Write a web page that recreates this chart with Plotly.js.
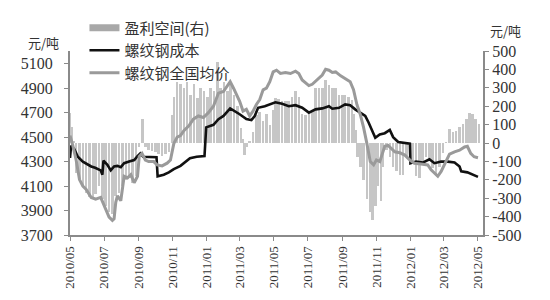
<!DOCTYPE html>
<html><head><meta charset="utf-8">
<script src="https://cdn.plot.ly/plotly-3.0.1.min.js"></script>
<style>html,body{margin:0;padding:0;background:#fff}#chart{width:550px;height:300px}</style>
</head><body><div id="chart"></div>
<script>
// 螺纹钢成本 (left axis, 元/吨)
const costDates = ["2010-05-01","2010-05-03","2010-05-09","2010-05-15","2010-05-24","2010-05-31","2010-06-08","2010-06-15","2010-06-25","2010-06-28","2010-06-30","2010-07-07","2010-07-13","2010-07-19","2010-07-25","2010-07-31","2010-08-06","2010-08-15","2010-08-24","2010-08-30","2010-09-04","2010-09-09","2010-09-22","2010-10-03","2010-10-05","2010-10-16","2010-10-25","2010-11-03","2010-11-15","2010-11-24","2010-12-02","2010-12-14","2010-12-28","2010-12-31","2011-01-13","2011-01-22","2011-01-31","2011-02-12","2011-02-21","2011-03-01","2011-03-13","2011-03-22","2011-03-28","2011-04-03","2011-04-15","2011-04-27","2011-05-04","2011-05-16","2011-05-28","2011-06-09","2011-06-21","2011-07-03","2011-07-15","2011-07-27","2011-08-08","2011-08-14","2011-08-26","2011-09-06","2011-09-15","2011-09-24","2011-10-03","2011-10-12","2011-10-18","2011-10-24","2011-10-30","2011-11-07","2011-11-16","2011-11-25","2011-12-01","2011-12-10","2011-12-22","2011-12-31","2012-01-01","2012-01-11","2012-01-23","2012-02-04","2012-02-13","2012-02-25","2012-03-08","2012-03-20","2012-03-29","2012-04-01","2012-04-12","2012-04-21","2012-05-01"];
const costValues = [4330,4430,4400,4340,4300,4281,4260,4250,4228,4193,4308,4273,4228,4260,4265,4255,4287,4300,4313,4345,4367,4340,4340,4335,4180,4193,4212,4239,4265,4300,4327,4340,4345,4580,4601,4647,4673,4735,4713,4687,4647,4639,4673,4740,4753,4772,4785,4772,4753,4761,4740,4700,4727,4735,4753,4732,4740,4767,4761,4727,4700,4673,4620,4553,4495,4521,4532,4559,4500,4460,4452,4447,4287,4300,4292,4319,4287,4300,4300,4292,4260,4220,4212,4193,4175];

// 螺纹钢全国均价 (left axis, 元/吨)
const priceDates = ["2010-05-01","2010-05-06","2010-05-12","2010-05-18","2010-05-24","2010-05-30","2010-06-08","2010-06-16","2010-06-25","2010-07-01","2010-07-10","2010-07-16","2010-07-19","2010-07-22","2010-07-25","2010-07-31","2010-08-06","2010-08-12","2010-08-18","2010-08-24","2010-08-30","2010-09-02","2010-09-07","2010-09-13","2010-09-19","2010-09-28","2010-10-04","2010-10-13","2010-10-22","2010-10-28","2010-11-03","2010-11-09","2010-11-15","2010-11-21","2010-11-30","2010-12-08","2010-12-17","2010-12-26","2011-01-04","2011-01-13","2011-01-22","2011-01-31","2011-02-06","2011-02-12","2011-02-18","2011-02-24","2011-03-01","2011-03-07","2011-03-13","2011-03-19","2011-03-25","2011-03-31","2011-04-06","2011-04-12","2011-04-18","2011-04-24","2011-04-30","2011-05-06","2011-05-13","2011-05-22","2011-05-31","2011-06-09","2011-06-15","2011-06-21","2011-06-27","2011-07-03","2011-07-09","2011-07-18","2011-07-27","2011-08-02","2011-08-08","2011-08-14","2011-08-20","2011-08-29","2011-09-06","2011-09-15","2011-09-21","2011-09-27","2011-10-03","2011-10-09","2011-10-15","2011-10-21","2011-10-27","2011-11-01","2011-11-07","2011-11-11","2011-11-16","2011-11-22","2011-11-28","2011-12-04","2011-12-13","2011-12-22","2011-12-31","2012-01-08","2012-01-20","2012-02-01","2012-02-07","2012-02-13","2012-02-19","2012-02-25","2012-03-02","2012-03-11","2012-03-20","2012-03-29","2012-04-07","2012-04-12","2012-04-18","2012-04-24","2012-05-01"];
const priceValues = [4513,4433,4313,4153,4100,4073,4007,3993,4007,3940,3847,3820,3833,3967,4020,3980,4180,4167,4193,4127,4180,4340,4367,4313,4300,4300,4273,4265,4287,4313,4447,4500,4513,4553,4593,4647,4673,4660,4700,4753,4860,4873,4913,4953,4900,4847,4793,4713,4727,4673,4713,4767,4807,4887,4900,4953,5033,5047,5020,5028,5020,5039,5020,4967,4940,4921,4932,4967,5007,5055,5047,5028,5033,5001,4975,4953,4887,4767,4687,4580,4447,4300,4273,4313,4300,4353,4425,4433,4407,4380,4372,4353,4313,4287,4281,4273,4233,4207,4180,4220,4273,4361,4380,4393,4420,4425,4367,4340,4332];

// 盈利空间(右) (right axis, 元/吨)
const profitDates = ["2010-05-01","2010-05-04","2010-05-07","2010-05-12","2010-05-18","2010-05-24","2010-05-30","2010-06-05","2010-06-11","2010-06-16","2010-06-22","2010-06-28","2010-07-04","2010-07-10","2010-07-16","2010-07-22","2010-07-28","2010-08-03","2010-08-09","2010-08-15","2010-08-21","2010-08-27","2010-09-02","2010-09-08","2010-09-13","2010-09-19","2010-09-25","2010-10-01","2010-10-07","2010-10-13","2010-10-19","2010-10-25","2010-10-31","2010-11-03","2010-11-09","2010-11-15","2010-11-21","2010-11-27","2010-12-03","2010-12-09","2010-12-15","2010-12-21","2010-12-27","2011-01-02","2011-01-08","2011-01-14","2011-01-20","2011-01-26","2011-02-01","2011-02-07","2011-02-13","2011-02-19","2011-02-25","2011-03-03","2011-03-07","2011-03-10","2011-03-14","2011-03-19","2011-03-25","2011-03-31","2011-04-06","2011-04-12","2011-04-18","2011-04-24","2011-04-30","2011-05-04","2011-05-10","2011-05-16","2011-05-22","2011-05-28","2011-06-03","2011-06-09","2011-06-15","2011-06-21","2011-06-27","2011-07-03","2011-07-09","2011-07-15","2011-07-21","2011-07-27","2011-08-02","2011-08-08","2011-08-14","2011-08-20","2011-08-26","2011-09-01","2011-09-06","2011-09-12","2011-09-18","2011-09-22","2011-09-25","2011-09-28","2011-10-03","2011-10-09","2011-10-15","2011-10-21","2011-10-25","2011-10-30","2011-11-04","2011-11-09","2011-11-13","2011-11-19","2011-11-25","2011-12-01","2011-12-07","2011-12-13","2011-12-19","2011-12-25","2011-12-31","2012-01-05","2012-01-11","2012-01-17","2012-01-23","2012-01-29","2012-02-04","2012-02-10","2012-02-16","2012-02-22","2012-02-28","2012-03-05","2012-03-11","2012-03-17","2012-03-23","2012-03-29","2012-04-04","2012-04-10","2012-04-16","2012-04-21","2012-04-27","2012-05-03"];
const profitValues = [165,85,10,-163,-199,-234,-270,-296,-305,-278,-234,-305,-340,-376,-385,-287,-270,-234,-199,-190,-216,-181,-21,130,-20,-40,-45,-50,-60,-70,-60,-50,150,250,333,320,300,330,260,320,245,300,280,250,300,280,440,300,330,280,320,260,200,80,20,-65,-20,10,60,150,170,120,160,100,180,245,240,227,230,227,250,280,250,156,150,156,174,298,300,298,342,316,298,298,262,262,262,250,236,156,68,-75,-128,-199,-305,-376,-420,-340,-234,-314,-128,-39,-75,-128,-154,-172,-172,-75,-57,-110,-181,-190,-110,-75,-100,-136,-172,-128,-57,5,76,58,67,85,103,129,165,156,129,103];

const leftTicks = [3700,3900,4100,4300,4500,4700,4900,5100];
const rightTicks = [-500,-400,-300,-200,-100,0,100,200,300,400,500];
const rightTickText = ["-500","-400","-300","-200","-100","0","100","200","300","400","500"];
const seriesNames = ["盈利空间(右)","螺纹钢成本","螺纹钢全国均价"];

const cjk = '"Noto Sans CJK SC", sans-serif';
const serif = '"Liberation Serif", "DejaVu Serif", serif';

const traces = [
  {type:'bar', x:profitDates, y:profitValues, yaxis:'y', xaxis:'x',
   marker:{color:'#c6c6c6', line:{width:0}}, width:4.6*86400000,
   showlegend:false, name:seriesNames[0], hoverinfo:'skip'},
  {type:'scatter', mode:'lines', x:[null], y:[null], yaxis:'y', name:seriesNames[0],
   line:{color:'#a8a8a8', width:7}},
  {type:'scatter', mode:'lines', x:costDates, y:costValues, yaxis:'y2', name:seriesNames[1],
   line:{color:'#111111', width:2.6}},
  {type:'scatter', mode:'lines', x:priceDates, y:priceValues, yaxis:'y2', name:seriesNames[2],
   line:{color:'#9a9a9a', width:3}}
];

const layout = {
  width:550, height:300,
  margin:{l:70, r:67, t:47, b:65},
  paper_bgcolor:'#fff', plot_bgcolor:'#fff',
  showlegend:true,
  legend:{x:0.035, y:1.215, xanchor:'left', yanchor:'top', bgcolor:'rgba(0,0,0,0)',
          font:{family:cjk, size:15, color:'#333'}, tracegroupgap:0, itemwidth:30},
  bargap:0,
  xaxis:{type:'date', range:['2010-05-01','2012-05-10'], tick0:'2010-05-01', dtick:'M2',
         tickformat:'%Y/%m', tickangle:-90, showgrid:false, zeroline:false,
         showline:true, linecolor:'#8a8a8a', linewidth:2, ticks:'outside', ticklen:4,
         tickcolor:'#8a8a8a', tickfont:{family:serif, size:13, color:'#333'}},
  yaxis:{side:'right', range:[-500,500], tickvals:rightTicks, ticktext:rightTickText,
         showgrid:false, zeroline:false, showline:true, linecolor:'#8a8a8a', linewidth:2,
         ticks:'outside', ticklen:4, tickcolor:'#8a8a8a',
         tickfont:{family:serif, size:16, color:'#333'}},
  yaxis2:{side:'left', overlaying:'y', range:[3700,5204], tickvals:leftTicks,
          showgrid:false, zeroline:false, showline:true, linecolor:'#8a8a8a', linewidth:2,
          ticks:'outside', ticklen:4, tickcolor:'#8a8a8a', ticklabelstandoff:8,
          tickfont:{family:serif, size:16, color:'#333'}},
  annotations:[
    {text:'元/吨', xref:'paper', yref:'paper', x:-0.063, y:1.048, showarrow:false,
     xanchor:'center', yanchor:'middle', font:{family:cjk, size:13, color:'#333'}},
    {text:'元/吨', xref:'paper', yref:'paper', x:1.055, y:1.112, showarrow:false,
     xanchor:'center', yanchor:'middle', font:{family:cjk, size:13, color:'#333'}}
  ]
};

Plotly.newPlot('chart', traces, layout, {staticPlot:true, displayModeBar:false});
</script></body></html>
